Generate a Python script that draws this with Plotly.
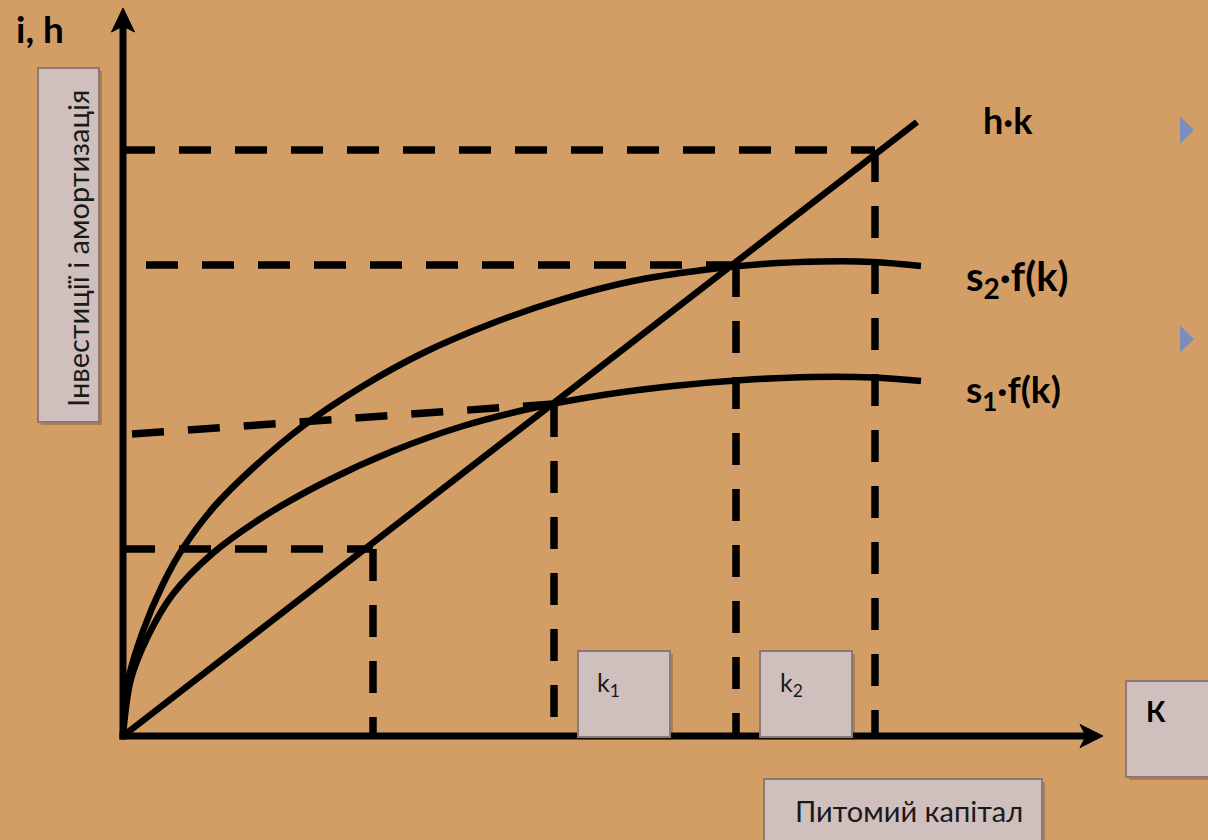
import plotly.graph_objects as go

# ---- data (k units; 1 unit = 100 px in the reference) ----
line_k = [0.0, 7.94]
line_hk = [0.0, 6.14]

s2_k = [0.0, 0.05, 0.20, 0.40, 0.60, 0.90, 1.30, 1.80, 2.40, 3.00, 3.70, 4.40, 5.10, 5.80, 6.40, 7.00, 7.50, 7.98]
s2_f = [0.0, 0.55, 1.05, 1.52, 1.88, 2.28, 2.68, 3.10, 3.50, 3.83, 4.13, 4.37, 4.55, 4.66, 4.72, 4.745, 4.74, 4.70]

s1_k = [0.0, 0.08, 0.25, 0.50, 0.90, 1.40, 2.00, 2.70, 3.40, 4.10, 4.80, 5.50, 6.20, 6.90, 7.50, 7.98]
s1_f = [0.0, 0.57, 1.00, 1.42, 1.83, 2.19, 2.53, 2.85, 3.10, 3.28, 3.41, 3.50, 3.56, 3.59, 3.585, 3.55]

# guide (dashed) segments: start / end points
guide_x0 = [0.0, 7.52, 0.23, 6.13, 0.09, 4.31, 0.0, 2.50]
guide_y0 = [5.86, 5.86, 4.71, 4.71, 3.02, 3.31, 1.87, 1.87]
guide_x1 = [7.52, 7.52, 6.13, 6.13, 4.30, 4.31, 2.50, 2.50]
guide_y1 = [5.86, 0.0, 4.71, 0.0, 3.32, 0.0, 1.87, 0.0]

curve_labels = ["h·k", "s<sub>2</sub>·f(k)", "s<sub>1</sub>·f(k)"]
axis_y_label = "i, h"
y_title = "Інвестиції і амортизація"
x_title = "Питомий капітал"
k_labels = ["k<sub>1</sub>", "k<sub>2</sub>"]
x_axis_label = "К"

FONT = "Lato"
BG = "#D39E66"
BOX_FILL = "#CFC0BE"
BOX_LINE = "#8C7876"

fig = go.Figure()

# dashed guides
for x0, y0, x1, y1 in zip(guide_x0, guide_y0, guide_x1, guide_y1):
    fig.add_trace(go.Scatter(x=[x0, x1], y=[y0, y1], mode="lines",
                             line=dict(color="black", width=7.5, dash="32px,24px"),
                             hoverinfo="skip", showlegend=False))

# curves
fig.add_trace(go.Scatter(x=s2_k, y=s2_f, mode="lines",
                         line=dict(color="black", width=6.5, shape="spline", smoothing=1.0),
                         showlegend=False))
fig.add_trace(go.Scatter(x=s1_k, y=s1_f, mode="lines",
                         line=dict(color="black", width=6.5, shape="spline", smoothing=1.0),
                         showlegend=False))
fig.add_trace(go.Scatter(x=line_k, y=line_hk, mode="lines",
                         line=dict(color="black", width=6.5), showlegend=False))

shapes = []
# axes
shapes.append(dict(type="line", x0=0, y0=-0.035, x1=0, y1=7.12, line=dict(color="black", width=7)))
shapes.append(dict(type="line", x0=-0.035, y0=0, x1=9.65, y1=0, line=dict(color="black", width=7)))
# arrow heads
shapes.append(dict(type="path", path="M 0 7.28 L 0.115 7.04 L 0 7.10 L -0.115 7.04 Z",
                   fillcolor="black", line=dict(color="black", width=1)))
shapes.append(dict(type="path", path="M 9.80 0 L 9.57 0.115 L 9.63 0 L 9.57 -0.115 Z",
                   fillcolor="black", line=dict(color="black", width=1)))

# boxes
boxes = [(-0.85, 3.14, -0.24, 6.68), (4.55, -0.01, 5.47, 0.85), (6.37, -0.01, 7.29, 0.85),
         (10.03, -0.41, 10.95, 0.55), (6.41, -1.10, 9.19, -0.43)]
for x0, y0, x1, y1 in boxes:
    shapes.append(dict(type="rect", x0=x0 + 0.03, y0=y0 - 0.03, x1=x1 + 0.03, y1=y1 - 0.03,
                       fillcolor="rgba(60,30,10,0.25)", line=dict(width=0)))
    shapes.append(dict(type="rect", x0=x0, y0=y0, x1=x1, y1=y1,
                       fillcolor=BOX_FILL, line=dict(color=BOX_LINE, width=2)))

# blue bullet triangles
for yc in [6.06, 3.97]:
    shapes.append(dict(type="path",
                       path=f"M 10.57 {yc+0.135} L 10.71 {yc} L 10.57 {yc-0.135} Z",
                       fillcolor="#7D8CBE", line=dict(width=0)))

ann = []
ann.append(dict(x=-1.09, y=7.08, text=f"<b>{axis_y_label}</b>", showarrow=False,
                xanchor="left", yanchor="middle", font=dict(family=FONT, size=37, color="black")))
ann.append(dict(x=8.58, y=6.16, text=f"<b>{curve_labels[0]}</b>", showarrow=False,
                xanchor="left", yanchor="middle", font=dict(family=FONT, size=36, color="black")))
ann.append(dict(x=8.41, y=4.58, text=f"<b>{curve_labels[1]}</b>", showarrow=False,
                xanchor="left", yanchor="middle", font=dict(family=FONT, size=40, color="black")))
ann.append(dict(x=8.41, y=3.45, text=f"<b>{curve_labels[2]}</b>", showarrow=False,
                xanchor="left", yanchor="middle", font=dict(family=FONT, size=37, color="black")))
ann.append(dict(x=-0.46, y=4.87, text=y_title, showarrow=False, textangle=-90,
                xanchor="center", yanchor="middle", font=dict(family=FONT, size=29, color="#1a1a1a")))
ann.append(dict(x=7.86, y=-0.74, text=x_title, showarrow=False,
                xanchor="center", yanchor="middle", font=dict(family=FONT, size=29, color="#1a1a1a")))
ann.append(dict(x=4.72, y=0.52, text=k_labels[0], showarrow=False,
                xanchor="left", yanchor="middle", font=dict(family=FONT, size=25, color="#1a1a1a")))
ann.append(dict(x=6.55, y=0.52, text=k_labels[1], showarrow=False,
                xanchor="left", yanchor="middle", font=dict(family=FONT, size=25, color="#1a1a1a")))
ann.append(dict(x=10.21, y=0.25, text=f"<b>{x_axis_label}</b>", showarrow=False,
                xanchor="left", yanchor="middle", font=dict(family=FONT, size=28, color="black")))

fig.update_layout(
    width=1208, height=840,
    margin=dict(l=0, r=0, t=0, b=0),
    paper_bgcolor=BG, plot_bgcolor=BG,
    xaxis=dict(range=[-1.23, 10.85], visible=False, fixedrange=True),
    yaxis=dict(range=[-1.04, 7.36], visible=False, fixedrange=True),
    shapes=shapes, annotations=ann,
    showlegend=False,
)

fig.write_html("out.html", config={"displayModeBar": False},
               post_script="document.body.style.margin='0';document.body.style.overflow='hidden';")
